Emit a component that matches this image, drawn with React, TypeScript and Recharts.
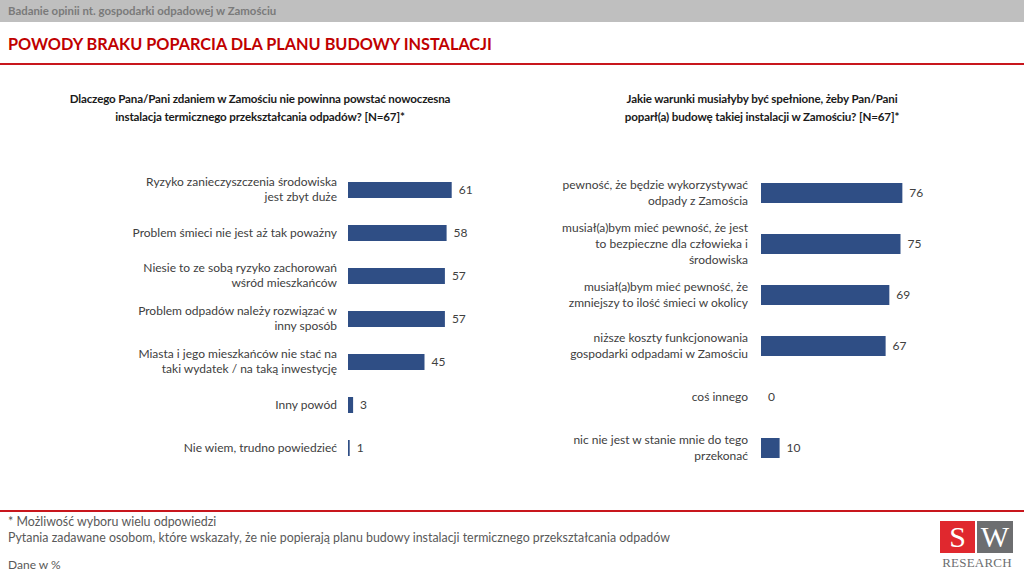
import { BarChart, Bar, XAxis, YAxis } from 'recharts';

const leftCategories = [
  'Ryzyko zanieczyszczenia środowiska\njest zbyt duże',
  'Problem śmieci nie jest aż tak poważny',
  'Niesie to ze sobą ryzyko zachorowań\nwśród mieszkańców',
  'Problem odpadów należy rozwiązać w\ninny sposób',
  'Miasta i jego mieszkańców nie stać na\ntaki wydatek / na taką inwestycję',
  'Inny powód',
  'Nie wiem, trudno powiedzieć',
];
const leftValues = [61, 58, 57, 57, 45, 3, 1];

const rightCategories = [
  'pewność, że będzie wykorzystywać\nodpady z Zamościa',
  'musiał(a)bym mieć pewność, że jest\nto bezpieczne dla człowieka i\nśrodowiska',
  'musiał(a)bym mieć pewność, że\nzmniejszy to ilość śmieci w okolicy',
  'niższe koszty funkcjonowania\ngospodarki odpadami w Zamościu',
  'coś innego',
  'nic nie jest w stanie mnie do tego\nprzekonać',
];
const rightValues = [76, 75, 69, 67, 0, 10];

const leftTitle = 'Dlaczego Pana/Pani zdaniem w Zamościu nie powinna powstać nowoczesna\ninstalacja termicznego przekształcania odpadów? [N=67]*';
const rightTitle = 'Jakie warunki musiałyby być spełnione, żeby Pan/Pani\npoparł(a) budowę takiej instalacji w Zamościu? [N=67]*';

const FONT = 'Lato, "Open Sans", sans-serif';
const BAR = '#2F4E85';
const TEXT = '#404040';

function MultiLineTick(props: any) {
  const { x, y, payload, lineHeight } = props;
  const lines = String(payload.value).split('\n');
  const startY = y - ((lines.length - 1) * lineHeight) / 2;
  return (
    <text x={x} y={startY} textAnchor="end" fill={TEXT} fontSize={12} fontFamily={FONT}>
      {lines.map((line: string, i: number) => (
        <tspan key={i} x={x} y={startY + i * lineHeight} dy="0.35em">
          {line}
        </tspan>
      ))}
    </text>
  );
}

// bar + its value label; drawn even when the value is 0
function BarWithLabel(props: any) {
  const { x, y, width, height, payload } = props;
  const w = Math.max(0, Number(width) || 0);
  return (
    <g>
      {w > 0 && <rect x={x} y={y} width={w} height={height} fill={BAR} />}
      <text x={Number(x) + w + 7} y={Number(y) + Number(height) / 2} dy="0.35em" fill={TEXT} fontSize={12} fontFamily={FONT}>
        {payload.value}
      </text>
    </g>
  );
}

function HBarChart({ categories, values, axisWidth, plotWidth, height, barSize, gap, lineHeight }: any) {
  const data = categories.map((c: string, i: number) => ({ name: c, value: values[i] }));
  return (
    <BarChart
      width={axisWidth + plotWidth}
      height={height}
      data={data}
      layout="vertical"
      margin={{ top: 0, right: 0, bottom: 0, left: 0 }}
    >
      <XAxis type="number" domain={[0, 100]} hide />
      <YAxis
        type="category"
        dataKey="name"
        width={axisWidth}
        axisLine={false}
        tickLine={false}
        tickSize={0}
        tickMargin={gap}
        interval={0}
        tick={(p: any) => <MultiLineTick {...p} lineHeight={lineHeight} />}
      />
      <Bar dataKey="value" fill={BAR} barSize={barSize} isAnimationActive={false} shape={BarWithLabel} />
    </BarChart>
  );
}

function Title({ text, left, width }: { text: string; left: number; width: number }) {
  return (
    <div
      style={{
        position: 'absolute',
        left,
        top: 90,
        width,
        textAlign: 'center',
        fontFamily: FONT,
        fontWeight: 700,
        fontSize: 11.6,
        letterSpacing: -0.15,
        lineHeight: '18px',
        color: '#1a1a1a',
        whiteSpace: 'pre-line',
      }}
    >
      {text}
    </div>
  );
}

export default function App() {
  return (
    <div
      style={{
        position: 'absolute',
        left: 0,
        top: 0,
        width: 1024,
        height: 576,
        background: '#fff',
        overflow: 'hidden',
        fontFamily: FONT,
      }}
    >
      <div style={{ position: 'absolute', left: 0, top: 0, width: 1024, height: 22, background: '#bfbfbf' }} />
      <div style={{ position: 'absolute', left: 8, top: 4, fontSize: 11.4, fontWeight: 700, color: '#7a7a7a' }}>
        Badanie opinii nt. gospodarki odpadowej w Zamościu
      </div>
      <div style={{ position: 'absolute', left: 8, top: 34, fontSize: 16.3, fontWeight: 700, color: '#c00000' }}>
        POWODY BRAKU POPARCIA DLA PLANU BUDOWY INSTALACJI
      </div>
      <div style={{ position: 'absolute', left: 0, top: 63, width: 1024, height: 2, background: '#c8161d' }} />

      <Title text={leftTitle} left={40} width={440} />
      <Title text={rightTitle} left={560} width={404} />

      <div style={{ position: 'absolute', left: 40, top: 168 }}>
        <HBarChart
          categories={leftCategories}
          values={leftValues}
          axisWidth={308}
          plotWidth={170}
          height={301}
          barSize={16}
          gap={11}
          lineHeight={15}
        />
      </div>
      <div style={{ position: 'absolute', left: 540, top: 167 }}>
        <HBarChart
          categories={rightCategories}
          values={rightValues}
          axisWidth={221}
          plotWidth={186}
          height={306}
          barSize={20}
          gap={13}
          lineHeight={16}
        />
      </div>

      <div style={{ position: 'absolute', left: 0, top: 510, width: 1024, height: 2, background: '#c8161d' }} />
      <div style={{ position: 'absolute', left: 8, top: 514, fontSize: 12.4, color: '#595959', lineHeight: '16px' }}>
        <div>* Możliwość wyboru wielu odpowiedzi</div>
        <div>Pytania zadawane osobom, które wskazały, że nie popierają planu budowy instalacji termicznego przekształcania odpadów</div>
      </div>
      <div style={{ position: 'absolute', left: 8, top: 557, fontSize: 12, color: '#595959' }}>Dane w %</div>

      <div
        style={{
          position: 'absolute',
          left: 940,
          top: 521,
          width: 35,
          height: 32,
          background: '#e0282e',
          color: '#fff',
          fontFamily: '"Liberation Serif", serif',
          fontSize: 30,
          lineHeight: '32px',
          textAlign: 'center',
        }}
      >
        S
      </div>
      <div
        style={{
          position: 'absolute',
          left: 977,
          top: 521,
          width: 36,
          height: 32,
          background: '#6d6e70',
          color: '#fff',
          fontFamily: '"Liberation Serif", serif',
          fontSize: 30,
          lineHeight: '32px',
          textAlign: 'center',
        }}
      >
        W
      </div>
      <div
        style={{
          position: 'absolute',
          left: 938,
          top: 555,
          width: 78,
          textAlign: 'center',
          fontFamily: '"Liberation Serif", serif',
          fontSize: 13,
          color: '#6d6e70',
          letterSpacing: 0.2,
        }}
      >
        RESEARCH
      </div>
    </div>
  );
}
